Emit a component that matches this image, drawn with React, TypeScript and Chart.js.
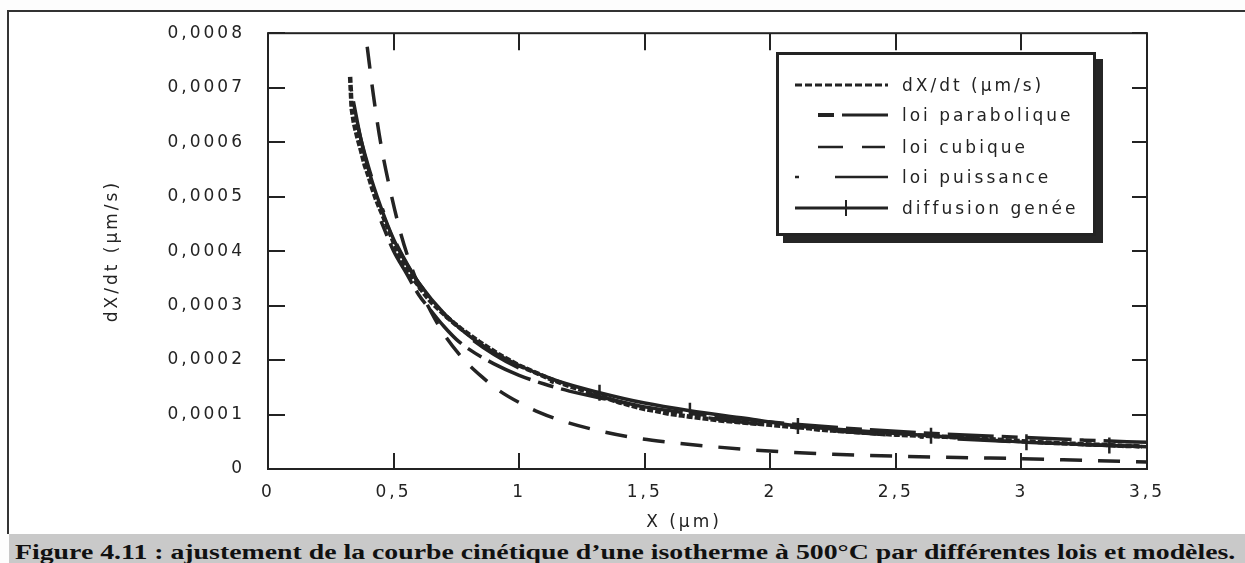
import React, { useEffect, useRef } from 'react';
import { Chart, registerables } from 'chart.js';

Chart.register(...registerables);

// ---------- axes ----------
const X_TICK_VALUES = [0, 0.5, 1, 1.5, 2, 2.5, 3, 3.5];
const X_TICK_LABELS = ['0', '0,5', '1', '1,5', '2', '2,5', '3', '3,5'];
const Y_TICK_VALUES = [0, 0.0001, 0.0002, 0.0003, 0.0004, 0.0005, 0.0006, 0.0007, 0.0008];
const Y_TICK_LABELS = ['0', '0,0001', '0,0002', '0,0003', '0,0004', '0,0005', '0,0006', '0,0007', '0,0008'];
const X_TITLE = 'X (µm)';
const Y_TITLE = 'dX/dt (µm/s)';
const SERIES_NAMES = ['dX/dt (µm/s)', 'loi parabolique', 'loi cubique', 'loi puissance', 'diffusion genée'];
const CAPTION = 'Figure 4.11 : ajustement de la courbe cinétique d’une isotherme à 500°C par différentes lois et modèles.';

// ---------- experimental data dX/dt ----------
const DATA_X = [
  0.327, 0.333, 0.342, 0.355, 0.37, 0.385, 0.4, 0.415, 0.43, 0.445, 0.46, 0.475, 0.49, 0.505, 0.52,
  0.54, 0.56, 0.58, 0.6, 0.625, 0.65, 0.68, 0.71, 0.74, 0.77, 0.8, 0.84, 0.88, 0.92, 0.96,
  1.0, 1.04, 1.08, 1.12, 1.16, 1.2, 1.25, 1.3, 1.35, 1.4, 1.45, 1.5, 1.55, 1.6, 1.65,
  1.7, 1.75, 1.8, 1.85, 1.9, 1.95, 2.0, 2.05, 2.1, 2.15, 2.2, 2.25, 2.3, 2.35, 2.4,
  2.45, 2.5, 2.55, 2.6, 2.65, 2.7, 2.75, 2.8, 2.85, 2.9, 2.95, 3.0, 3.05, 3.1, 3.15,
  3.2, 3.25, 3.3, 3.35, 3.4, 3.45, 3.48,
];
const DATA_Y = [
  7.2e-4, 6.62e-4, 6.35e-4, 6.1e-4, 5.85e-4, 5.58e-4, 5.38e-4, 5.15e-4, 4.95e-4, 4.78e-4, 4.62e-4, 4.45e-4, 4.28e-4, 4.1e-4, 3.95e-4,
  3.78e-4, 3.62e-4, 3.48e-4, 3.36e-4, 3.2e-4, 3.06e-4, 2.93e-4, 2.8e-4, 2.68e-4, 2.57e-4, 2.47e-4, 2.34e-4, 2.22e-4, 2.1e-4, 2.0e-4,
  1.9e-4, 1.82e-4, 1.74e-4, 1.66e-4, 1.59e-4, 1.52e-4, 1.45e-4, 1.38e-4, 1.3e-4, 1.22e-4, 1.16e-4, 1.1e-4, 1.06e-4, 1.01e-4, 0.98e-4,
  0.95e-4, 0.92e-4, 0.89e-4, 0.87e-4, 0.85e-4, 0.83e-4, 0.81e-4, 0.79e-4, 0.77e-4, 0.75e-4, 0.72e-4, 0.705e-4, 0.69e-4, 0.675e-4, 0.66e-4,
  0.645e-4, 0.63e-4, 0.62e-4, 0.615e-4, 0.6e-4, 0.59e-4, 0.58e-4, 0.565e-4, 0.555e-4, 0.54e-4, 0.525e-4, 0.51e-4, 0.5e-4, 0.485e-4, 0.475e-4,
  0.465e-4, 0.455e-4, 0.445e-4, 0.44e-4, 0.425e-4, 0.42e-4, 0.41e-4,
];

// ---------- loi parabolique ----------
const PARA_X = [0.45, 0.5, 0.55, 0.6, 0.65, 0.7, 0.75, 0.8, 0.9, 1.0, 1.1, 1.2, 1.35, 1.5, 1.7, 1.9, 2.1, 2.4, 2.7, 3.0, 3.25, 3.5];
const PARA_Y = [
  4.55e-4, 4.0e-4, 3.6e-4, 3.2e-4, 2.9e-4, 2.62e-4, 2.38e-4, 2.2e-4, 1.93e-4, 1.72e-4, 1.56e-4, 1.43e-4,
  1.28e-4, 1.14e-4, 1.01e-4, 0.91e-4, 0.82e-4, 0.72e-4, 0.64e-4, 0.58e-4, 0.53e-4, 0.49e-4,
];

// ---------- loi cubique ----------
const CUB_X = [
  0.395, 0.42, 0.45, 0.49, 0.53, 0.57, 0.61, 0.65, 0.7, 0.77, 0.85, 0.92, 1.0, 1.08, 1.18, 1.3, 1.45, 1.6,
  1.75, 1.9, 2.05, 2.25, 2.5, 2.75, 3.0, 3.25, 3.5,
];
const CUB_Y = [
  7.75e-4, 6.85e-4, 5.95e-4, 5.05e-4, 4.3e-4, 3.72e-4, 3.25e-4, 2.88e-4, 2.48e-4, 2.06e-4, 1.7e-4, 1.44e-4, 1.22e-4,
  1.04e-4, 0.87e-4, 0.72e-4, 0.58e-4, 0.49e-4, 0.42e-4, 0.36e-4, 0.315e-4, 0.27e-4, 0.235e-4, 0.21e-4, 0.19e-4, 0.16e-4, 0.13e-4,
];

// ---------- loi puissance ----------
const PUIS_X = [0.33, 0.36, 0.4, 0.45, 0.5, 0.55, 0.6, 0.7, 0.8, 0.9, 1.0, 1.2, 1.4, 1.6, 1.8, 2.0, 2.25, 2.5, 2.75, 3.0, 3.25, 3.5];
const PUIS_Y = [
  7.0e-4, 6.25e-4, 5.55e-4, 4.85e-4, 4.25e-4, 3.8e-4, 3.42e-4, 2.84e-4, 2.42e-4, 2.1e-4, 1.85e-4, 1.49e-4,
  1.24e-4, 1.05e-4, 0.91e-4, 0.805e-4, 0.7e-4, 0.615e-4, 0.55e-4, 0.495e-4, 0.45e-4, 0.41e-4,
];

// ---------- diffusion genée ----------
const DIFF_X = [
  0.34, 0.37, 0.4, 0.45, 0.5, 0.55, 0.6, 0.7, 0.8, 0.9, 1.0, 1.15, 1.32, 1.5, 1.68, 1.9, 2.11, 2.35, 2.64, 2.85, 3.02, 3.2, 3.35, 3.5,
];
const DIFF_Y = [
  6.75e-4, 6.05e-4, 5.5e-4, 4.8e-4, 4.22e-4, 3.78e-4, 3.42e-4, 2.86e-4, 2.45e-4, 2.14e-4, 1.9e-4, 1.62e-4, 1.4e-4,
  1.21e-4, 1.07e-4, 0.93e-4, 0.79e-4, 0.7e-4, 0.61e-4, 0.54e-4, 0.49e-4, 0.46e-4, 0.43e-4, 0.41e-4,
];
const DIFF_MARKERS = [1.32, 1.68, 2.11, 2.64, 3.02, 3.35];

const INK = '#232323';
const FONT_FAMILY = '"DejaVu Sans", Verdana, sans-serif';
const FONT = `17px ${FONT_FAMILY}`;
const SPACING = '3px';

const pts = (xs: number[], ys: number[]) => xs.map((x, i) => ({ x, y: ys[i] }));

const decorPlugin = {
  id: 'decor',
  beforeUpdate(chart: any) {
    chart.ctx.letterSpacing = SPACING;
  },
  beforeDraw(chart: any) {
    chart.ctx.letterSpacing = SPACING;
  },
  afterDraw(chart: any) {
    const ctx = chart.ctx as CanvasRenderingContext2D;
    const { left, right, top, bottom } = chart.chartArea;
    const xs = chart.scales.x;
    const ys = chart.scales.y;
    ctx.save();
    ctx.strokeStyle = INK;
    ctx.lineWidth = 2;
    ctx.setLineDash([]);
    ctx.strokeRect(left, top, right - left, bottom - top);
    ctx.beginPath();
    X_TICK_VALUES.forEach((v) => {
      const p = Math.round(xs.getPixelForValue(v));
      ctx.moveTo(p, bottom);
      ctx.lineTo(p, bottom - 16);
      ctx.moveTo(p, top);
      ctx.lineTo(p, top + 17);
    });
    Y_TICK_VALUES.forEach((v) => {
      const p = Math.round(ys.getPixelForValue(v));
      ctx.moveTo(left, p);
      ctx.lineTo(left + 17, p);
      ctx.moveTo(right, p);
      ctx.lineTo(right - 15, p);
    });
    ctx.stroke();

    // x axis title
    (ctx as any).letterSpacing = SPACING;
    ctx.font = FONT;
    ctx.fillStyle = INK;
    ctx.textAlign = 'center';
    ctx.textBaseline = 'middle';
    ctx.fillText(X_TITLE, 684, 523);

    // legend box
    const bx = 776, by = 52, bw = 320, bh = 184;
    ctx.fillStyle = '#262626';
    ctx.fillRect(bx + 7, by + 7, bw, bh);
    ctx.fillStyle = '#ffffff';
    ctx.fillRect(bx, by, bw, bh);
    ctx.lineWidth = 3;
    ctx.strokeStyle = INK;
    ctx.strokeRect(bx + 1.5, by + 1.5, bw - 3, bh - 3);

    const rows = [85, 115, 147, 177, 208];
    const seg = (x1: number, x2: number, y: number, w: number, dash: number[] = []) => {
      ctx.setLineDash(dash);
      ctx.lineWidth = w;
      ctx.beginPath();
      ctx.moveTo(x1, y);
      ctx.lineTo(x2, y);
      ctx.stroke();
    };
    seg(795, 888, rows[0], 3, [7, 3]);
    seg(818, 834, rows[1], 4);
    seg(842, 888, rows[1], 3);
    seg(818, 843, rows[2], 2.5);
    seg(862, 885, rows[2], 2.5);
    seg(795, 799, rows[3], 2.5);
    seg(835, 888, rows[3], 2.5);
    seg(795, 888, rows[4], 3);
    ctx.setLineDash([]);
    ctx.lineWidth = 2;
    ctx.beginPath();
    ctx.moveTo(846, rows[4] - 8);
    ctx.lineTo(846, rows[4] + 8);
    ctx.stroke();

    ctx.fillStyle = INK;
    ctx.textAlign = 'left';
    ctx.textBaseline = 'middle';
    SERIES_NAMES.forEach((name, i) => {
      ctx.fillText(name, 902, rows[i] + 2);
    });
    ctx.restore();
  },
};

export default function App() {
  const canvasRef = useRef<HTMLCanvasElement | null>(null);

  useEffect(() => {
    document.body.style.margin = '0';
    const canvas = canvasRef.current;
    if (!canvas) return;
    const line = (label: string, data: any[], dash: number[], width: number, extra: any = {}) => ({
      label,
      data,
      borderColor: INK,
      backgroundColor: INK,
      borderWidth: width,
      borderDash: dash,
      pointRadius: 0,
      fill: false,
      ...extra,
    });
    const chart = new Chart(canvas, {
      type: 'line',
      data: {
        datasets: [
          line(SERIES_NAMES[0], pts(DATA_X, DATA_Y), [6, 2], 4.5, { tension: 0 }),
          line(SERIES_NAMES[1], pts(PARA_X, PARA_Y), [16, 8, 46, 8], 3.5, { cubicInterpolationMode: 'monotone' }),
          line(SERIES_NAMES[2], pts(CUB_X, CUB_Y), [22, 16], 3.5, { cubicInterpolationMode: 'monotone' }),
          line(SERIES_NAMES[3], pts(PUIS_X, PUIS_Y), [4, 34, 53, 34], 3.5, { cubicInterpolationMode: 'monotone' }),
          line(SERIES_NAMES[4], pts(DIFF_X, DIFF_Y), [], 3.5, {
            cubicInterpolationMode: 'monotone',
            pointStyle: 'line',
            rotation: 90,
            pointBorderWidth: 2.5,
            pointBorderColor: INK,
            pointRadius: (c: any) => (DIFF_MARKERS.includes(DIFF_X[c.dataIndex]) ? 8 : 0),
          }),
        ],
      },
      options: {
        responsive: false,
        animation: false,
        devicePixelRatio: 1,
        layout: { padding: { left: 0, top: 26, right: 98, bottom: 0 } },
        plugins: { legend: { display: false }, tooltip: { enabled: false } },
        scales: {
          x: {
            type: 'linear',
            min: 0,
            max: 3.5,
            afterFit: (s: any) => {
              s.height = 94;
            },
            afterBuildTicks: (s: any) => {
              s.ticks = X_TICK_VALUES.map((v) => ({ value: v }));
            },
            grid: { display: false, drawTicks: false },
            border: { display: false },
            ticks: {
              padding: 13,
              color: INK,
              font: { family: FONT_FAMILY, size: 17 },
              maxRotation: 0,
              autoSkip: false,
              callback: (_v: any, i: number) => X_TICK_LABELS[i],
            },
          },
          y: {
            type: 'linear',
            min: 0,
            max: 0.0008,
            afterFit: (s: any) => {
              s.width = 268;
            },
            afterBuildTicks: (s: any) => {
              s.ticks = Y_TICK_VALUES.map((v) => ({ value: v }));
            },
            grid: { display: false, drawTicks: false },
            border: { display: false },
            ticks: {
              padding: 23,
              color: INK,
              font: { family: FONT_FAMILY, size: 17 },
              autoSkip: false,
              callback: (_v: any, i: number) => Y_TICK_LABELS[i],
            },
            title: {
              display: true,
              text: Y_TITLE,
              color: INK,
              font: { family: FONT_FAMILY, size: 17 },
              padding: { top: 102, bottom: 0 },
            },
          },
        },
      } as any,
      plugins: [decorPlugin],
    });
    return () => chart.destroy();
  }, []);

  return (
    <div style={{ position: 'absolute', left: 0, top: 0, width: 1245, height: 563, background: '#fdfdfd', overflow: 'hidden' }}>
      <div
        style={{
          position: 'absolute',
          left: 7,
          top: 10,
          width: 1240,
          height: 524,
          borderTop: '2px solid #333',
          borderLeft: '2px solid #333',
          background: '#ffffff',
          boxSizing: 'border-box',
        }}
      />
      <canvas
        ref={canvasRef}
        width={1245}
        height={563}
        style={{ position: 'absolute', left: 0, top: 0, width: 1245, height: 563 }}
      />
      <div style={{ position: 'absolute', left: 9, top: 534, width: 1236, height: 29, background: '#c9c9c9' }}>
        <span
          style={{
            position: 'absolute',
            left: 6,
            top: 7,
            lineHeight: '20px',
            whiteSpace: 'nowrap',
            font: 'bold 20px "Liberation Serif", "Times New Roman", serif',
            color: '#111',
            transform: 'scaleX(1.39)',
            transformOrigin: 'left top',
          }}
        >
          {CAPTION}
        </span>
      </div>
    </div>
  );
}
